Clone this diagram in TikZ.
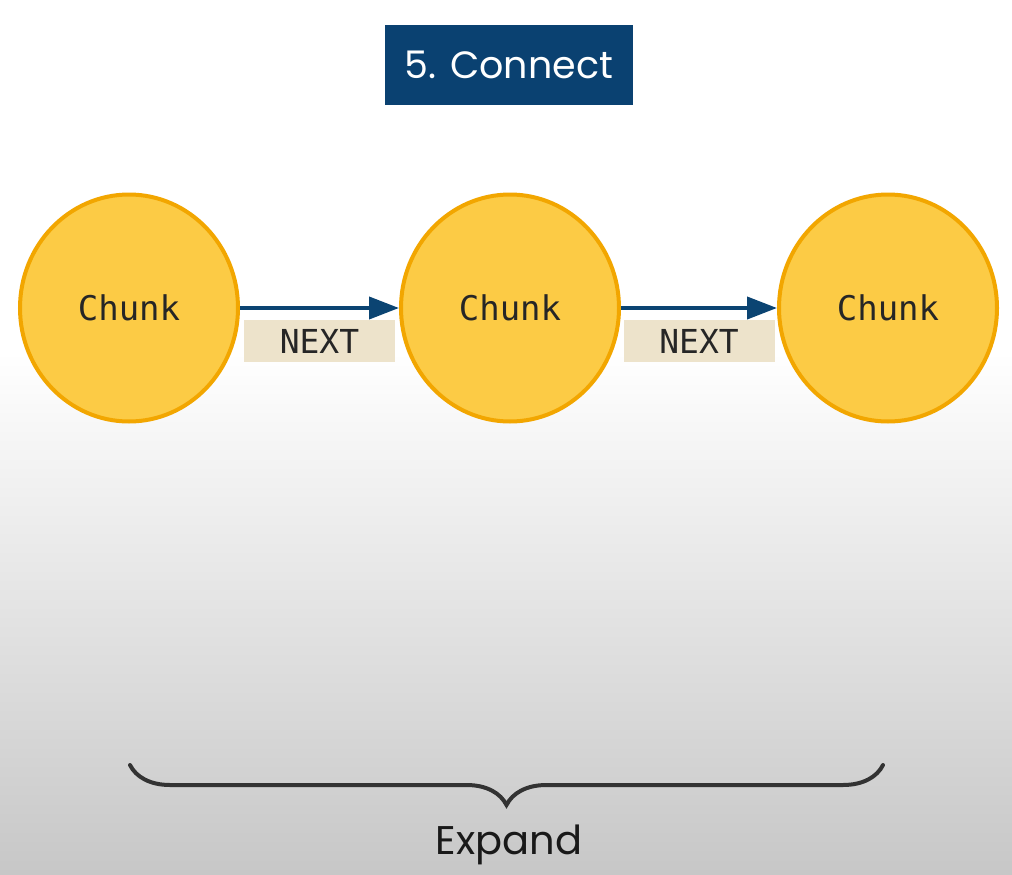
\documentclass[tikz,border=0pt]{standalone}
\usepackage{fontspec}
\setmainfont{Poppins}
\newfontfamily\chunkfont{DejaVu Sans Mono}
\usepackage{tikz}
\usetikzlibrary{positioning, arrows.meta, shapes.geometric, decorations.pathreplacing}

\definecolor{titleblue}{HTML}{0A4171}
\definecolor{arrowblue}{HTML}{0B4472}
\definecolor{chunkfill}{HTML}{FCCB45}
\definecolor{chunkedge}{HTML}{F2A600}
\definecolor{nextfill}{HTML}{EDE3CB}
\definecolor{bracegray}{HTML}{333333}

\begin{document}
\begin{tikzpicture}[
  x=1pt, y=-1pt,
  titlebox/.style={rectangle, fill=titleblue, text=white,
    minimum width=248pt, minimum height=80pt, font=\fontsize{38}{40}\selectfont},
  chunk/.style={ellipse, draw=chunkedge, fill=chunkfill, line width=4pt,
    minimum width=218pt, minimum height=227pt, inner sep=0pt,
    font=\chunkfont\fontsize{34}{36}\selectfont, text=black!85},
  nextbox/.style={rectangle, fill=nextfill, minimum width=151pt, minimum height=42pt,
    inner sep=0pt, font=\chunkfont\fontsize{33}{35}\selectfont, text=black!85},
  link/.style={-{Triangle[length=30pt, width=22pt]}, line width=4pt, draw=arrowblue},
  curly/.style={decorate, decoration={brace, mirror, amplitude=40pt},
    line width=4pt, draw=bracegray, line cap=round},
]
\useasboundingbox (0,0) rectangle (1012,875);

% --- background ---
\fill[white] (0,0) rectangle (1012,352);
\shade[top color=white, bottom color=black!22] (0,352) rectangle (1012,875);

% --- title ---
\node[titlebox] (title) at (509,65) {5. Connect};

% --- chunks ---
\node[chunk] (chunkA) at (129,308) {Chunk};
\node[chunk] (chunkB) at (510,308) {Chunk};
\node[chunk] (chunkC) at (888,308) {Chunk};

% NEXT links
\draw[link] (chunkA.east) -- node[nextbox, below=10pt] (nextA) {NEXT} (chunkB.west);
\draw[link] (chunkB.east) -- node[nextbox, below=10pt] (nextB) {NEXT} (chunkC.west);

% --- brace ---
\coordinate (braceL) at (130,765);
\coordinate (braceR) at (883,765);
\draw[curly] (braceL) -- (braceR);
\node[font=\fontsize{40}{42}\selectfont, text=black!90] (expand) at (509,845) {Expand};

\end{tikzpicture}
\end{document}
